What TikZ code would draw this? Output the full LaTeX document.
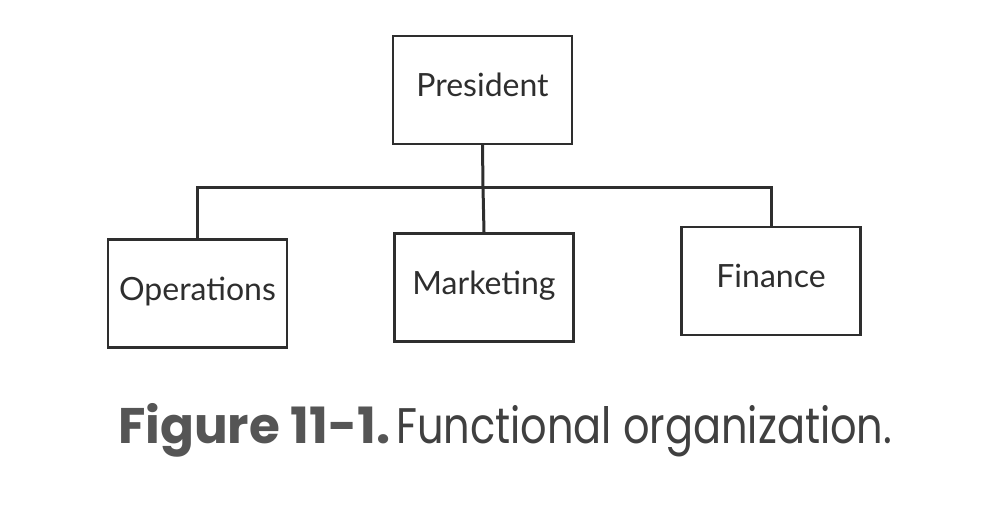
\documentclass[tikz,border=0pt]{standalone}
\usepackage{fontspec}
\setmainfont{Lato}
\newfontfamily\capbold{Poppins}
\newfontfamily\capreg[FakeStretch=0.83]{Poppins}
\definecolor{ink}{HTML}{2E2E2E}
\definecolor{capgray}{HTML}{555555}
\definecolor{capdark}{HTML}{404040}
\begin{document}
\begin{tikzpicture}[x=1pt,y=-1pt,
  unitbox/.style={draw=ink, line width=2.4pt, minimum width=179pt, minimum height=108pt,
    text=ink, font=\fontsize{32}{38}\selectfont, inner sep=0pt,
    text height=13pt, text depth=0pt},
  link/.style={draw=ink, line width=3pt}]
\useasboundingbox (0,0) rectangle (985,508);
\node[unitbox] (pres) at (482.5,90) {President};
\node[unitbox] (ops) at (197.5,293.5) {Operations};
\node[unitbox] (mkt) at (484,287.5) {Marketing};
\node[unitbox] (fin) at (771,281) {Finance};
\coordinate (j) at (483,187);
\draw[link] (pres.south) -- (j);
\draw[link] (j) -- (mkt.north);
\draw[link] (ops.north) |- (j);
\draw[link] (j) -| (fin.north);
\node[anchor=base west, inner sep=0pt] (cap) at (118,443)
  {\textcolor{capgray}{\capbold\fontsize{50}{58}\selectfont\bfseries Figure 11-1.}\hspace{6pt}\textcolor{capdark}{\capreg\fontsize{50}{58}\selectfont Functional organization.}};
\end{tikzpicture}
\end{document}
